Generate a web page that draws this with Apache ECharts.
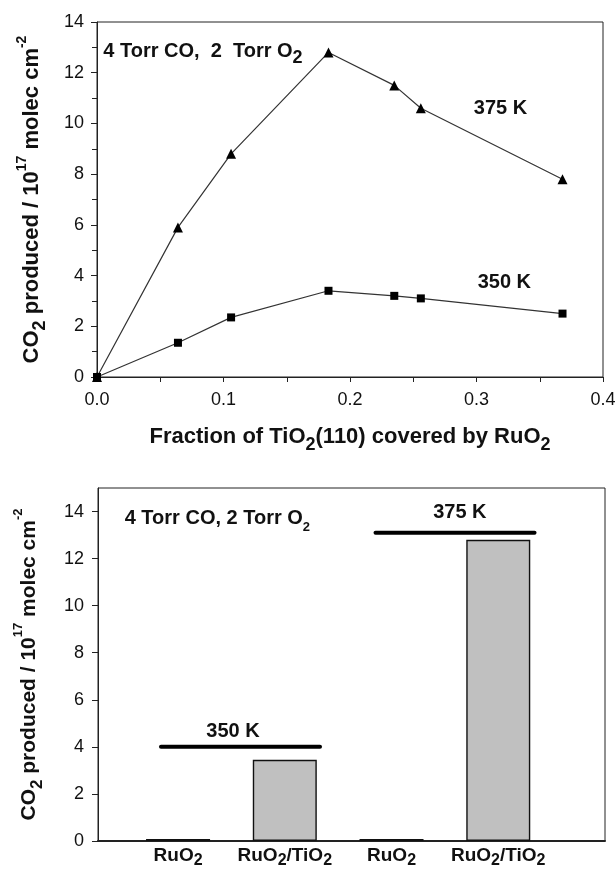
<!DOCTYPE html>
<html>
<head>
<meta charset="utf-8">
<script src="https://cdn.jsdelivr.net/npm/echarts@6/dist/echarts.min.js"></script>
<style>
  html, body { margin: 0; padding: 0; background: #fff; }
  #chart { width: 616px; height: 872px; }
</style>
</head>
<body>
<div id="chart"></div>
<script>
// top panel: CO2 produced vs RuO2 coverage
const coverage = [0, 0.064, 0.106, 0.183, 0.235, 0.256, 0.368]
const co2At375 = [0, 5.9, 8.8, 12.8, 11.5, 10.6, 7.8]
const co2At350 = [0, 1.35, 2.35, 3.4, 3.2, 3.1, 2.5]
const topYTicks = [0, 2, 4, 6, 8, 10, 12, 14]
const topXTicks = [0, 0.1, 0.2, 0.3, 0.4]
// [x, y, text, anchor] annotations in data units
const topNotes = [
  [0.005, 12.82, '{b|4 Torr CO,  2  Torr O}{sub|2}', 'right'],
  [0.319, 10.6, '{b|375 K}', 'inside'],
  [0.322, 3.71, '{b|350 K}', 'inside']
]

// bottom panel: bars
const barPositions = [1, 2, 3, 4]
const barNames = ['RuO{s|2}', 'RuO{s|2}/TiO{s|2}', 'RuO{s|2}', 'RuO{s|2}/TiO{s|2}']
const barValues = [0.08, 3.45, 0.08, 12.8]
const bottomYTicks = [0, 2, 4, 6, 8, 10, 12, 14]
// temperature bars: [from, to, level]
const tempSpans = [[0.84, 2.33, 4.0], [2.85, 4.34, 13.1]]
const bottomNotes = [
  [0.5, 13.7, '{b|4 Torr CO, 2 Torr O}{sub|2}', 'right'],
  [1.515, 4.67, '{b|350 K}', 'inside'],
  [3.64, 13.94, '{b|375 K}', 'inside']
]

const FONT = 'Liberation Sans, Arial, sans-serif'
const TXT = '#111'

const yName = '{b|CO}{sub|2}{b| produced / 10}{sup|17}{b| molec cm}{sup|-2}'
const nameRich = (size) => ({
  b: { fontSize: size, fontWeight: 'bold', fontFamily: FONT, color: TXT, lineHeight: 34, verticalAlign: 'middle' },
  sub: { fontSize: size - 4, fontWeight: 'bold', fontFamily: FONT, color: TXT, lineHeight: size - 4, verticalAlign: 'bottom' },
  sup: { fontSize: size - 8, fontWeight: 'bold', fontFamily: FONT, color: TXT, lineHeight: size - 6, verticalAlign: 'top' }
})
const noteRich = (subSize) => ({
  b: { fontSize: 20, fontWeight: 'bold', fontFamily: FONT, color: TXT, lineHeight: 30, verticalAlign: 'middle', textBorderWidth: 0 },
  sub: { fontSize: subSize, fontWeight: 'bold', fontFamily: FONT, color: TXT, lineHeight: subSize, verticalAlign: 'bottom', textBorderWidth: 0 }
})

const tickLabel = { color: TXT, fontSize: 18, fontFamily: FONT }

const chart = echarts.init(document.getElementById('chart'))

const noteSeries = (notes, axisIdx, rich) => ({
  type: 'scatter',
  xAxisIndex: axisIdx,
  yAxisIndex: axisIdx,
  symbolSize: 0,
  silent: true,
  z: 5,
  itemStyle: { opacity: 1 },
  data: notes.map(n => ({
    value: [n[0], n[1]],
    text: n[2],
    label: { position: n[3], distance: 0 }
  })),
  label: {
    show: true,
    color: TXT,
    opacity: 1,
    textBorderWidth: 0,
    formatter: p => p.data.text,
    rich: rich
  }
})

const option = {
  animation: false,
  backgroundColor: '#fff',
  grid: [
    { left: 97, top: 22, width: 506, height: 355, show: true, borderColor: '#222', borderWidth: 1, outerBoundsMode: 'none' },
    { left: 98, top: 488, width: 507, height: 353, show: true, borderColor: '#222', borderWidth: 1, outerBoundsMode: 'none' }
  ],
  xAxis: [
    {
      gridIndex: 0,
      type: 'value',
      min: 0,
      max: 0.4,
      interval: 0.1,
      axisLine: { lineStyle: { color: '#222', width: 1 } },
      axisTick: { show: true, length: 5, lineStyle: { color: '#222' } },
      minorTick: { show: true, splitNumber: 2, length: 5, lineStyle: { color: '#222' } },
      splitLine: { show: false },
      axisLabel: { ...tickLabel, margin: 14, formatter: v => v.toFixed(1) },
      name: '{b|Fraction of TiO}{sub|2}{b|(110) covered by RuO}{sub|2}',
      nameLocation: 'middle',
      nameGap: 43,
      nameTextStyle: { rich: nameRich(22) }
    },
    {
      gridIndex: 1,
      type: 'value',
      min: 0.25,
      max: 5,
      axisLine: { lineStyle: { color: '#222', width: 2 } },
      axisTick: { show: false },
      splitLine: { show: false },
      axisLabel: {
        customValues: barPositions,
        margin: 2,
        color: TXT,
        formatter: v => '{b|' + barNames[barPositions.indexOf(v)].replace(/\{s\|2\}/g, '}{s|2}{b|') + '}',
        rich: {
          b: { fontSize: 19, fontWeight: 'bold', fontFamily: FONT, color: TXT, lineHeight: 26, verticalAlign: 'middle' },
          s: { fontSize: 16, fontWeight: 'bold', fontFamily: FONT, color: TXT, lineHeight: 10, verticalAlign: 'bottom' }
        }
      }
    }
  ],
  yAxis: [
    {
      gridIndex: 0,
      type: 'value',
      min: 0,
      max: 14,
      interval: 2,
      axisLine: { lineStyle: { color: '#222', width: 1 } },
      axisTick: { show: true, length: 6, lineStyle: { color: '#222' } },
      minorTick: { show: true, splitNumber: 2, length: 5, lineStyle: { color: '#222' } },
      splitLine: { show: false },
      axisLabel: { ...tickLabel, margin: 13 },
      name: yName,
      nameLocation: 'middle',
      nameRotate: 90,
      nameGap: 48,
      nameTextStyle: { rich: nameRich(22) }
    },
    {
      gridIndex: 1,
      type: 'value',
      min: 0,
      max: 15,
      axisLine: { lineStyle: { color: '#222', width: 1 } },
      axisTick: { show: true, length: 6, customValues: bottomYTicks, lineStyle: { color: '#222' } },
      splitLine: { show: false },
      axisLabel: { ...tickLabel, margin: 14, customValues: bottomYTicks },
      name: yName,
      nameLocation: 'middle',
      nameRotate: 90,
      nameGap: 52,
      nameTextStyle: { rich: nameRich(21) }
    }
  ],
  series: [
    {
      type: 'line',
      xAxisIndex: 0,
      yAxisIndex: 0,
      data: coverage.map((x, i) => [x, co2At375[i]]),
      symbol: 'triangle',
      symbolSize: 10,
      itemStyle: { color: '#000' },
      lineStyle: { color: '#333', width: 1.2 }
    },
    {
      type: 'line',
      xAxisIndex: 0,
      yAxisIndex: 0,
      data: coverage.map((x, i) => [x, co2At350[i]]),
      symbol: 'rect',
      symbolSize: 8,
      itemStyle: { color: '#000' },
      lineStyle: { color: '#333', width: 1.2 }
    },
    noteSeries(topNotes, 0, noteRich(18)),
    {
      type: 'bar',
      xAxisIndex: 1,
      yAxisIndex: 1,
      data: barPositions.map((x, i) => ({
        value: [x, barValues[i]],
        itemStyle: barValues[i] < 0.5 ? { color: '#000' } : undefined
      })),
      barWidth: 64,
      itemStyle: { color: '#c0c0c0', borderColor: '#111', borderWidth: 1.4 }
    },
    ...tempSpans.map(s => ({
      type: 'line',
      xAxisIndex: 1,
      yAxisIndex: 1,
      data: [[s[0], s[2]], [s[1], s[2]]],
      symbol: 'none',
      lineStyle: { color: '#000', width: 4, cap: 'round' }
    })),
    noteSeries(bottomNotes, 1, noteRich(13))
  ]
}

chart.setOption(option)
</script>
</body>
</html>
